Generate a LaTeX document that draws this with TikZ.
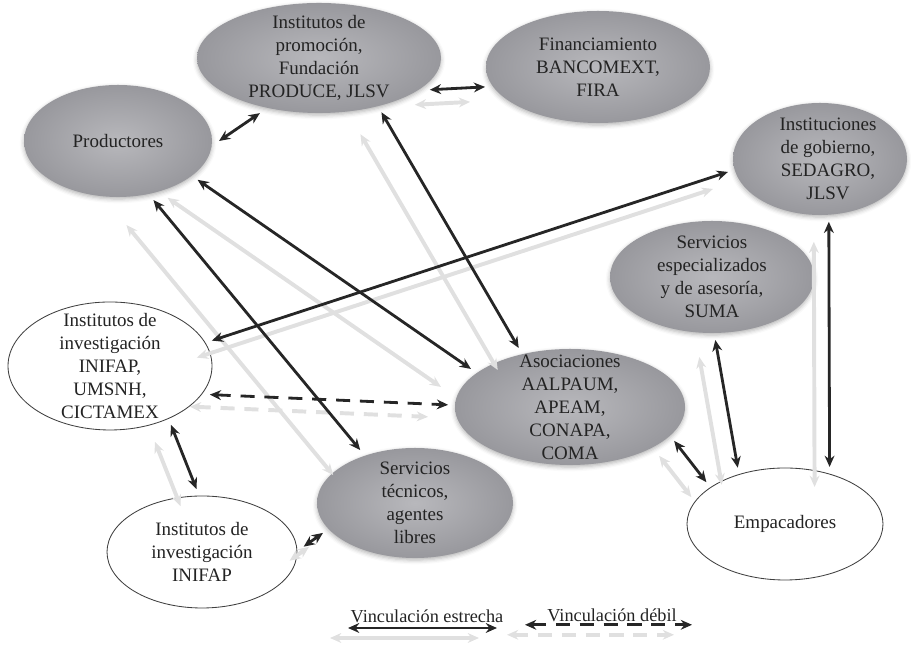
\documentclass[tikz,border=0pt]{standalone}
\usepackage{fontspec}
\setmainfont{Liberation Serif}
\usepackage{xcolor}
\usepackage{tikz}
\usetikzlibrary{shapes,arrows.meta,positioning,shadows.blur}

\definecolor{ellin}{RGB}{184,184,188}
\definecolor{ellout}{RGB}{152,152,157}
\definecolor{txtgray}{RGB}{35,35,35}
\definecolor{linkgray}{RGB}{38,38,38}

\begin{document}
\begin{tikzpicture}[
    >={Stealth[length=8pt,width=7pt]},
    grayell/.style={ellipse, shade, inner color=ellin, outer color=ellout, outer sep=5pt,
        blur shadow={shadow xshift=0pt, shadow yshift=-1.5pt, shadow blur radius=3pt, shadow opacity=30}},
    whiteell/.style={ellipse, draw=black!75, fill=white, line width=0.6pt, outer sep=5pt},
    lbl/.style={align=center, font=\fontsize{13.5}{16.4}\selectfont, text=txtgray},
    link/.style={<->, draw=linkgray, line width=2pt},
    weak/.style={link, dash pattern=on 10pt off 7pt},
    ghost/.style={<->, draw=black!12, line width=2.8pt, transform canvas={shift={#1}}}
]
\useasboundingbox (0,0) rectangle (22.775,16.15);

% Actores
\node[grayell, minimum width=6.1cm, minimum height=2.75cm] (promo) at (7.975,14.7) {};
\node[lbl] (promo-t) at (promo) {Institutos de\\promoción,\\Fundación\\PRODUCE, JLSV};
\node[grayell, minimum width=4.7cm, minimum height=2.8cm] (prod) at (2.95,12.625) {};
\node[lbl] (prod-t) at (prod) {Productores};
\node[grayell, minimum width=5.6cm, minimum height=2.8cm] (fin) at (14.95,14.475) {};
\node[lbl] (fin-t) at (fin) {Financiamiento\\BANCOMEXT,\\FIRA};
\node[grayell, minimum width=4.35cm, minimum height=2.8cm] (gob) at (20.5,12.175) {};
\node[lbl, xshift=0.2cm] (gob-t) at (gob) {Instituciones\\de gobierno,\\SEDAGRO,\\JLSV};
\node[grayell, minimum width=5.1cm, minimum height=2.8cm] (serve) at (17.8,9.225) {};
\node[lbl] (serve-t) at (serve) {Servicios\\especializados\\y de asesoría,\\SUMA};
\node[grayell, minimum width=5.75cm, minimum height=2.9cm] (asoc) at (14.25,5.975) {};
\node[lbl] (asoc-t) at (asoc) {Asociaciones\\AALPAUM,\\APEAM,\\CONAPA,\\COMA};
\node[grayell, minimum width=4.9cm, minimum height=2.75cm] (servt) at (10.375,3.575) {};
\node[lbl] (servt-t) at (servt) {Servicios\\técnicos,\\agentes\\libres};
\node[whiteell, minimum width=5.1cm, minimum height=3.2cm] (cicta) at (2.75,7.0) {};
\node[lbl] (cicta-t) at (cicta) {Institutos de\\investigación\\INIFAP,\\UMSNH,\\CICTAMEX};
\node[whiteell, minimum width=4.75cm, minimum height=2.8cm] (inifap) at (5.05,2.35) {};
\node[lbl] (inifap-t) at (inifap) {Institutos de\\investigación\\INIFAP};
\node[whiteell, minimum width=4.9cm, minimum height=2.8cm] (emp) at (19.625,3.05) {};
\node[lbl] (emp-t) at (emp) {Empacadores};

% Leyenda
\coordinate (ls1) at (8.7,0.45);
\coordinate (ls2) at (12.425,0.45);
\coordinate (lw1) at (13.125,0.53);
\coordinate (lw2) at (17.3,0.53);
\node[lbl, font=\fontsize{13}{15}\selectfont, anchor=base] (ls-t) at (10.675,0.575) {Vinculación estrecha};
\node[lbl, font=\fontsize{13}{15}\selectfont, anchor=base] (lw-t) at (15.3,0.62) {Vinculación débil};

% Sombras
\draw[ghost={(-0.375,-0.375)}] (promo.-16) -- (fin.190);
\draw[ghost={(-0.75,-0.45)}] (prod.-26) -- (asoc.159);
\draw[ghost={(-0.675,-0.625)}] (prod.-59) -- (servt.136);
\draw[ghost={(-0.525,-0.55)}] (promo.-41) -- (asoc.131);
\draw[ghost={(-0.375,-0.425)}] (cicta.14) -- (gob.188);
\draw[ghost={(-0.5,-0.3)}, dash pattern=on 10pt off 7pt] (cicta.-16) -- (asoc.179);
\draw[ghost={(-0.4,-0.425)}] (cicta.-44) -- (inifap.95);
\draw[ghost={(-0.35,-0.35)}] (inifap.3) -- (servt.198);
\draw[ghost={(-0.375,-0.375)}] (asoc.-18) -- (emp.152);
\draw[ghost={(-0.4,-0.425)}] (serve.-87) -- (emp.130);
\draw[ghost={(-0.375,-0.5)}] (gob.-82) -- (emp.52);
\draw[ghost={(-0.45,-0.25)}] (ls1) -- (ls2);
\draw[ghost={(-0.45,-0.25)}, dash pattern=on 10pt off 7pt] (lw1) -- (lw2);

% Vinculaciones
\draw[link] (prod.0) -- (promo.223);
\draw[link] (promo.-16) -- (fin.190);
\draw[link] (prod.-26) -- (asoc.159);
\draw[link] (prod.-59) -- (servt.136);
\draw[link] (promo.-41) -- (asoc.131);
\draw[link] (cicta.14) -- (gob.188);
\draw[weak] (cicta.-16) -- (asoc.179);
\draw[link] (cicta.-44) -- (inifap.95);
\draw[link] (inifap.3) -- (servt.198);
\draw[link] (asoc.-18) -- (emp.152);
\draw[link] (serve.-87) -- (emp.130);
\draw[link] (gob.-82) -- (emp.52);
\draw[link] (ls1) -- (ls2);
\draw[weak] (lw1) -- (lw2);

\end{tikzpicture}
\end{document}
